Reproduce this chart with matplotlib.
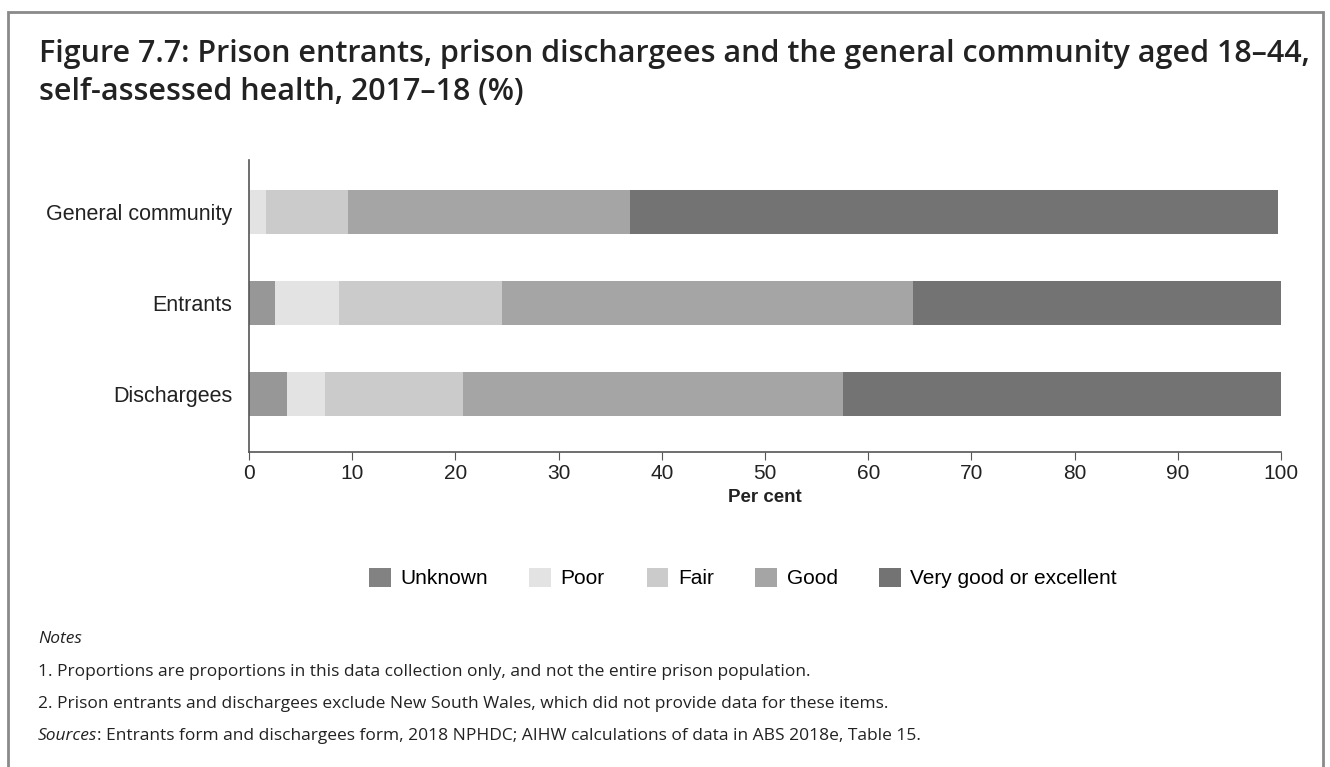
import matplotlib
matplotlib.use("Agg")
import matplotlib.pyplot as plt
from matplotlib.patches import Rectangle, Patch

categories = ["Dischargees", "Entrants", "General community"]
series_names = ["Unknown", "Poor", "Fair", "Good", "Very good or excellent"]
unknown = [3.7, 2.5, 0.0]
poor = [3.7, 6.2, 1.6]
fair = [13.3, 15.8, 8.0]
good = [36.9, 39.8, 27.3]
very_good = [42.4, 35.7, 62.8]
series_values = [unknown, poor, fair, good, very_good]
colors = ["#979797", "#e3e3e3", "#cbcbcb", "#a5a5a5", "#737373"]
legend_colors = ["#828282", "#e3e3e3", "#cbcbcb", "#a5a5a5", "#737373"]
xticks = list(range(0, 101, 10))

W, H = 1330, 767
fig = plt.figure(figsize=(W / 100, H / 100), dpi=100)

# outer frame (bottom edge lies outside the picture)
fig.patches.append(Rectangle((8 / W, -0.1), (1323 - 8) / W, 1 - 12 / H + 0.1, transform=fig.transFigure,
                             fill=False, edgecolor="#8a8a8a", linewidth=2))

title_kw = dict(fontfamily="Open Sans", fontweight="semibold", fontsize=22, color="#222222", va="baseline")
fig.text(39 / W, 1 - 62 / H, "Figure 7.7: Prison entrants, prison dischargees and the general community aged 18–44,", **title_kw)
fig.text(39 / W, 1 - 100 / H, "self-assessed health, 2017–18 (%)", **title_kw)

ax = fig.add_axes([249 / W, 1 - 452 / H, (1281 - 249) / W, (452 - 160) / H])
left = [0.0] * len(categories)
ypos = list(range(len(categories)))
for vals, c, name in zip(series_values, colors, series_names):
    ax.barh(ypos, vals, left=left, height=0.49, color=c, label=name, edgecolor="none")
    left = [l + v for l, v in zip(left, vals)]

ax.set_xlim(0, 100)
ax.set_ylim(-0.637, 2.57)
ax.set_yticks(ypos)
ax.set_yticklabels(categories, fontfamily="Liberation Sans", fontsize=15.5, color="#222222")
ax.set_xticks(xticks)
ax.set_xticklabels([str(t) for t in xticks], fontfamily="Liberation Sans", fontsize=15, color="#222222")
ax.tick_params(axis="y", length=0, pad=12)
ax.tick_params(axis="x", length=6, color="#555555", pad=3)
ax.set_xlabel("Per cent", fontfamily="Liberation Sans", fontweight="bold", fontsize=13.5, color="#222222", labelpad=4)
for s in ["top", "right"]:
    ax.spines[s].set_visible(False)
for s in ["left", "bottom"]:
    ax.spines[s].set_color("#555555")
    ax.spines[s].set_linewidth(1.2)

handles = [Patch(facecolor=c, edgecolor="none") for c in legend_colors]
fig.legend(handles, series_names, loc="center", bbox_to_anchor=(743 / W, 1 - 578 / H), ncol=5,
           frameon=False, prop={"family": "Liberation Sans", "size": 15},
           handlelength=1.05, handleheight=1.05, handletextpad=0.45, columnspacing=2.0)

note_kw = dict(fontfamily="Open Sans", fontsize=12.5, color="#222222", va="baseline")
fig.text(38 / W, 1 - 643 / H, "Notes", style="italic", **note_kw)
fig.text(38 / W, 1 - 676 / H, "1. Proportions are proportions in this data collection only, and not the entire prison population.", **note_kw)
fig.text(38 / W, 1 - 708 / H, "2. Prison entrants and dischargees exclude New South Wales, which did not provide data for these items.", **note_kw)
src = fig.text(38 / W, 1 - 740 / H, "Sources", style="italic", **note_kw)
renderer = fig.canvas.get_renderer()
bb = src.get_window_extent(renderer=renderer)
fig.text(bb.x1 / W, 1 - 740 / H, ": Entrants form and dischargees form, 2018 NPHDC; AIHW calculations of data in ABS 2018e, Table 15.", **note_kw)

fig.savefig("out.png", dpi=100)
